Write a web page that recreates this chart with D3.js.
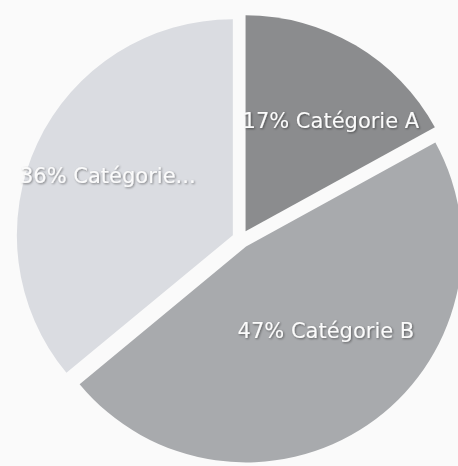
<!DOCTYPE html>
<html>
<head>
<meta charset="utf-8">
<script src="https://cdn.jsdelivr.net/npm/d3@7"></script>
<style>
  html, body { margin: 0; padding: 0; background: #fafafa; }
  svg { display: block; }
  .lbl { font-family: "DejaVu Sans", Verdana, sans-serif; font-size: 21px; fill: #fbfbfb; }
</style>
</head>
<body>
<svg id="chart" width="458" height="466"></svg>
<script>
// ---- data ----
const categories = ["Catégorie A", "Catégorie B", "Catégorie..."];
const values = [17, 47, 36];
const percentLabels = ["17%", "47%", "36%"];

// ---- styling / layout config ----
const colors = ["#8b8c8e", "#a8aaad", "#dadce1"];
const labelRadiusFactor = [0.647, 0.54, 0.64];
const labelAngleShiftDeg = [7, -9, 0];

const W = 458, H = 466;
const cx = 241, cy = 239, R = 216, explode = 9;

const svg = d3.select("#chart");
svg.append("rect").attr("width", W).attr("height", H).attr("fill", "#fafafa");

const defs = svg.append("defs");
const f = defs.append("filter").attr("id", "sh").attr("x", "-10%").attr("y", "-30%").attr("width", "120%").attr("height", "160%");
f.append("feDropShadow").attr("dx", 1).attr("dy", 1).attr("stdDeviation", 0.8)
  .attr("flood-color", "#000").attr("flood-opacity", 0.45);

const pie = d3.pie().sort(null).value(d => d);
const arcs = pie(values);
const arc = d3.arc().innerRadius(0).outerRadius(R);

const g = svg.append("g").attr("transform", `translate(${cx},${cy})`);

const slices = g.selectAll("g.slice").data(arcs).enter().append("g")
  .attr("class", "slice")
  .attr("transform", d => {
    const a = (d.startAngle + d.endAngle) / 2;
    return `translate(${explode * Math.sin(a)},${-explode * Math.cos(a)})`;
  });

slices.append("path")
  .attr("d", arc)
  .attr("fill", (d, i) => colors[i]);

slices.append("text")
  .attr("class", "lbl")
  .attr("filter", "url(#sh)")
  .attr("text-anchor", "middle")
  .attr("dominant-baseline", "central")
  .attr("transform", (d, i) => {
    const a = (d.startAngle + d.endAngle) / 2 + labelAngleShiftDeg[i] * Math.PI / 180;
    const r = R * labelRadiusFactor[i];
    return `translate(${r * Math.sin(a)},${-r * Math.cos(a)})`;
  })
  .text((d, i) => percentLabels[i] + " " + categories[i]);
</script>
</body>
</html>
